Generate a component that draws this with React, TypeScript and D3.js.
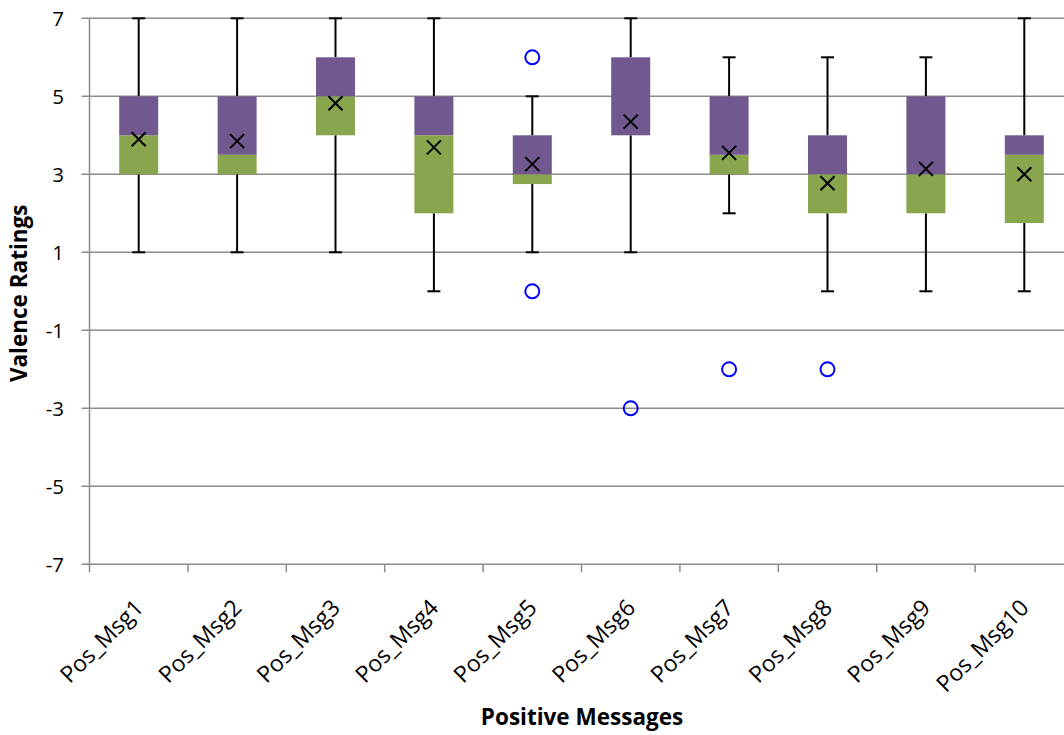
import React from "react";
import * as d3 from "d3";

const categories = ["Pos_Msg1","Pos_Msg2","Pos_Msg3","Pos_Msg4","Pos_Msg5","Pos_Msg6","Pos_Msg7","Pos_Msg8","Pos_Msg9","Pos_Msg10"];
const minVals = [1, 1, 1, 0, 1, 1, 2, 0, 0, 0];
const q1Vals = [3, 3, 4, 2, 2.75, 4, 3, 2, 2, 1.75];
const medianVals = [4, 3.5, 5, 4, 3, 4, 3.5, 3, 3, 3.5];
const q3Vals = [5, 5, 6, 5, 4, 6, 5, 4, 5, 4];
const maxVals = [7, 7, 7, 7, 5, 7, 6, 6, 6, 7];
const meanVals = [3.9, 3.85, 4.82, 3.69, 3.26, 4.35, 3.55, 2.77, 3.14, 3.0];
const outliers: [number, number][] = [[4, 6], [4, 0], [5, -3], [6, -2], [7, -2]];
const yTicks = [7, 5, 3, 1, -1, -3, -5, -7];

const FONT = "'Open Sans', 'Noto Sans', sans-serif";
const PURPLE = "#71598F";
const GREEN = "#89A54E";
const GRID = "#8C8C8C";

export default function App() {
  const W = 1064, H = 735;
  const left = 89.5, top = 18.3, bottom = 564.3;
  const band = 98.4;
  const x = d3.scaleBand<string>().domain(categories).range([left, left + band * categories.length]).paddingInner(0).paddingOuter(0);
  const y = d3.scaleLinear().domain([-7, 7]).range([bottom, top]);
  const boxW = 39;
  const cap = 13;

  return (
    <svg width={W} height={H} style={{ position: "absolute", left: 0, top: 0, background: "#fff" }} fontFamily={FONT}>
      {yTicks.map((t) => (
        <line key={"g" + t} x1={left - 8} x2={W} y1={y(t)} y2={y(t)} stroke={GRID} strokeWidth={1.5} />
      ))}
      <line x1={left} x2={left} y1={top} y2={bottom} stroke={GRID} strokeWidth={1.5} />
      {categories.map((c) => (
        <line key={"xt" + c} x1={x(c)!} x2={x(c)!} y1={bottom} y2={bottom + 8} stroke={GRID} strokeWidth={1.5} />
      ))}
      {yTicks.map((t) => (
        <text key={"yl" + t} x={64} y={y(t)} dy="0.36em" textAnchor="end" fontSize={20.5} fill="#000">{t}</text>
      ))}
      {categories.map((c, i) => {
        const cx = x(c)! + x.bandwidth() / 2;
        return (
          <g key={"b" + c}>
            <line x1={cx} x2={cx} y1={y(maxVals[i])} y2={y(q3Vals[i])} stroke="#000" strokeWidth={2} />
            <line x1={cx} x2={cx} y1={y(q1Vals[i])} y2={y(minVals[i])} stroke="#000" strokeWidth={2} />
            <line x1={cx - cap / 2} x2={cx + cap / 2} y1={y(maxVals[i])} y2={y(maxVals[i])} stroke="#000" strokeWidth={2} />
            <line x1={cx - cap / 2} x2={cx + cap / 2} y1={y(minVals[i])} y2={y(minVals[i])} stroke="#000" strokeWidth={2} />
            {q1Vals[i] < medianVals[i] && (
              <rect x={cx - boxW / 2} width={boxW} y={y(medianVals[i])} height={y(q1Vals[i]) - y(medianVals[i])} fill={GREEN} />
            )}
            {medianVals[i] < q3Vals[i] && (
              <rect x={cx - boxW / 2} width={boxW} y={y(q3Vals[i])} height={y(medianVals[i]) - y(q3Vals[i])} fill={PURPLE} />
            )}
            <path
              d={`M${cx - 7},${y(meanVals[i]) - 7}L${cx + 7},${y(meanVals[i]) + 7}M${cx - 7},${y(meanVals[i]) + 7}L${cx + 7},${y(meanVals[i]) - 7}`}
              stroke="#000" strokeWidth={2} fill="none"
            />
          </g>
        );
      })}
      {outliers.map(([ci, v], k) => {
        const cx = x(categories[ci])! + x.bandwidth() / 2;
        return <circle key={"o" + k} cx={cx} cy={y(v)} r={7} fill="none" stroke="#0000FF" strokeWidth={2} />;
      })}
      {categories.map((c) => {
        const cx = x(c)! + x.bandwidth() / 2;
        return (
          <text key={"xl" + c} transform={`translate(${cx + 6},${bottom + 45}) rotate(-45)`} textAnchor="end" fontSize={23} fill="#000">{c}</text>
        );
      })}
      <text x={582} y={725} textAnchor="middle" fontSize={22.5} fontWeight="bold" fill="#000">Positive Messages</text>
      <text transform={`translate(27,${(top + bottom) / 2 + 2}) rotate(-90)`} textAnchor="middle" fontSize={22.5} fontWeight="bold" fill="#000">Valence Ratings</text>
    </svg>
  );
}
